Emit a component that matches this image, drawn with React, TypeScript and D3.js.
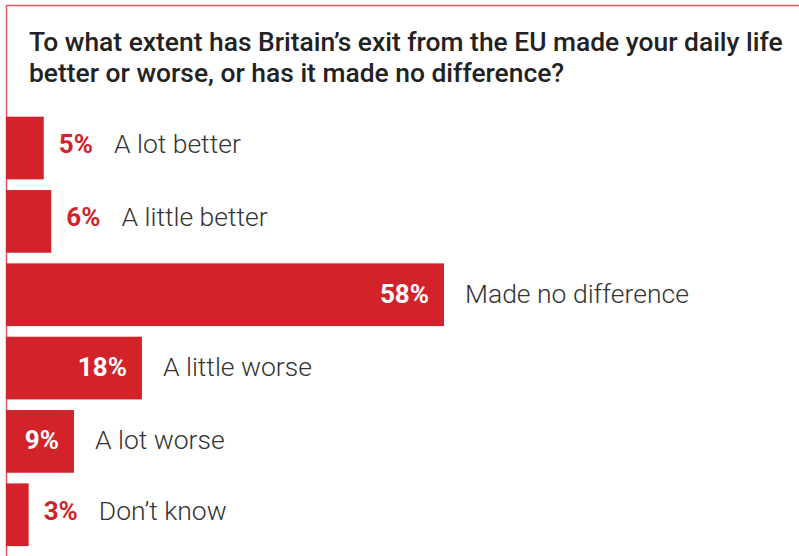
import React from "react";
import * as d3 from "d3";

const categories = ["A lot better", "A little better", "Made no difference", "A little worse", "A lot worse", "Don\u2019t know"];
const values = [5, 6, 58, 18, 9, 3];
const titleLines = [
  "To what extent has Britain\u2019s exit from the EU made your daily life",
  "better or worse, or has it made no difference?",
];

const W = 799;
const H = 556;
const RED = "#d2232a";
const BORDER = "#e35d66";
const FONT = "Roboto, 'Noto Sans', sans-serif";

export default function App() {
  const x = d3.scaleLinear().domain([0, 58]).range([6, 444]);
  const y = d3
    .scaleBand<string>()
    .domain(categories)
    .range([116.7, 546.1])
    .paddingInner(0.145)
    .paddingOuter(0);

  return (
    <svg
      width={W}
      height={H}
      style={{ position: "absolute", left: 0, top: 0, background: "#fff" }}
      fontFamily={FONT}
    >
      <rect x={0} y={0} width={W} height={H} fill="#fff" />
      <line x1={6.5} y1={5.5} x2={W} y2={5.5} stroke={BORDER} strokeWidth={1.6} />
      <line x1={6.5} y1={5} x2={6.5} y2={H} stroke={BORDER} strokeWidth={1.6} />
      {titleLines.map((t, i) => (
        <text key={i} x={29} y={51 + i * 31} fontSize={26.4} fontWeight={500} fill="#222">
          {t}
        </text>
      ))}
      {categories.map((c, i) => {
        const v = values[i];
        const x0 = x(0);
        const x1 = x(v);
        const by = y(c)!;
        const bh = y.bandwidth();
        const cy = by + bh / 2;
        const inside = v >= 9;
        return (
          <g key={c}>
            <rect x={x0} y={by} width={x1 - x0} height={bh} fill={RED} />
            {inside ? (
              <>
                <text x={x1 - 15} y={cy} dy="0.3em" textAnchor="end" fontSize={26} fontWeight={700} fill="#fff">
                  {v}%
                </text>
                <text x={x1 + 21} y={cy} dy="0.3em" fontSize={26.5} fontWeight={300} fill="#333">
                  {c}
                </text>
              </>
            ) : (
              <text x={x1 + 15} y={cy} dy="0.3em">
                <tspan fontSize={26} fontWeight={700} fill={RED}>
                  {v}%
                </tspan>
                <tspan dx={21} fontSize={26.5} fontWeight={300} fill="#333">
                  {c}
                </tspan>
              </text>
            )}
          </g>
        );
      })}
    </svg>
  );
}
